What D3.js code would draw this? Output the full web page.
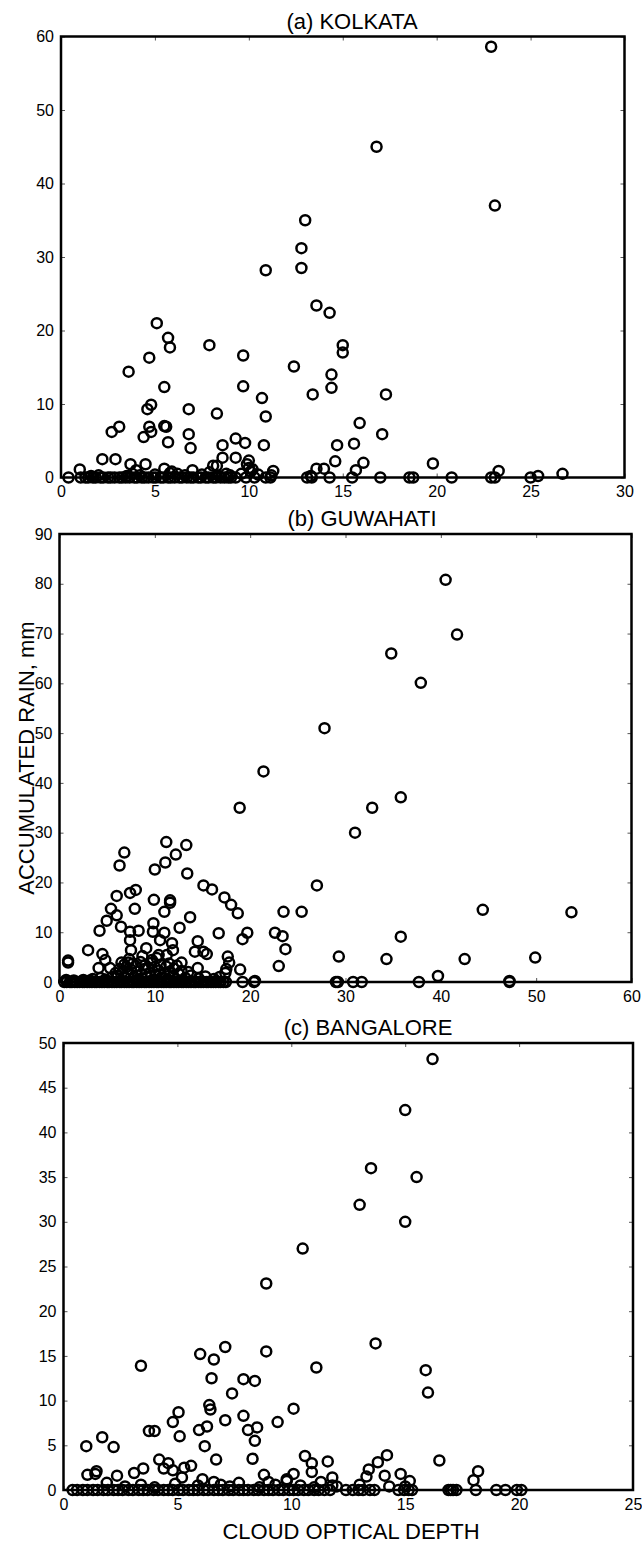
<!DOCTYPE html>
<html>
<head>
<meta charset="utf-8">
<script src="https://cdn.jsdelivr.net/npm/d3@7"></script>
<style>
  body { margin: 0; background: #fff; }
  text { font-family: "Liberation Sans", Arial, Helvetica, sans-serif; }
</style>
</head>
<body>
<div id="chart"></div>
<script>
var svgWidth = 642;
var svgHeight = 1548;

// ---- data: [cloud optical depth, accumulated rain mm] ----
var kolkataPoints = [
  [22.9,58.6],[16.8,45.0],[23.1,37.0],[13.0,35.0],[12.8,31.2],[12.8,28.5],[10.9,28.2],
  [13.6,23.4],[14.3,22.4],[5.1,21.0],[5.7,19.0],[5.8,17.7],[15.0,18.0],[15.0,17.0],
  [7.9,18.0],[9.7,16.6],[4.7,16.3],[12.4,15.1],[3.6,14.4],[14.4,14.0],[9.7,12.4],
  [5.5,12.3],[14.4,12.2],[17.3,11.3],[13.4,11.3],[10.7,10.8],[4.8,9.9],[4.6,9.3],
  [6.8,9.3],[8.3,8.7],[10.9,8.3],[15.9,7.4],[3.1,6.9],[4.7,6.9],[5.6,6.9],[5.5,7.0],
  [2.7,6.2],[4.8,6.2],[6.8,5.9],[17.1,5.9],[4.4,5.5],[15.6,4.6],[5.7,4.8],[6.9,4.0],
  [9.3,5.3],[9.8,4.7],[10.8,4.4],[8.6,4.4],[14.7,4.4],[8.6,2.7],[9.3,2.7],[2.2,2.5],
  [2.9,2.5],[14.6,2.2],[16.1,2.0],[19.8,1.9],[3.7,1.8],[4.5,1.8],[10.0,2.3],[8.1,1.6],
  [8.3,1.6],[14.0,1.2],[15.7,1.0],[11.3,0.9],[13.6,1.2],[23.3,0.9],[1.0,1.1],[5.5,1.2],
  [10.0,1.3],[10.1,0.8],[7.0,1.0],[26.7,0.5],[25.4,0.2],[13.3,0.2],[11.2,0.3],
  [3.8,0.5],[4.2,0.3],[5.0,0.4],[6.2,0.5],[6.6,0.3],[7.5,0.4],[9.0,0.3],[3.5,0.2],
  [5.8,0.6],[8.8,0.5],[4.0,1.0],[5.9,0.8],[2.0,0.3],[1.6,0.2],[7.9,0.7],[8.4,0.2],
  [9.6,0.5],[10.5,0.4],[9.9,1.8],[10.2,1.1],
  [0.4,0],[1.05,0],[1.3,0],[1.45,0],[1.7,0],[1.85,0],[2.1,0],[2.25,0],[2.5,0],[2.65,0],
  [2.85,0],[3.1,0],[3.25,0],[3.45,0],[3.65,0],[3.9,0],[4.05,0],[4.3,0],[4.45,0],[4.65,0],
  [4.9,0],[5.05,0],[5.3,0],[5.45,0],[5.7,0],[5.85,0],[6.05,0],[6.3,0],[6.45,0],[6.7,0],
  [6.9,0],[7.05,0],[7.3,0],[7.45,0],[7.7,0],[7.85,0],[8.1,0],[8.25,0],[8.5,0],[8.7,0],
  [8.9,0],[9.05,0],[9.3,0],[9.85,0],[10.3,0],[10.9,0],[11.15,0],[13.1,0],[13.35,0],
  [14.3,0],[15.5,0],[17.0,0],[18.55,0],[18.75,0],[20.8,0],[22.9,0],[23.1,0],[25.0,0]
];

var guwahatiPoints = [
  [40.5,80.8],[41.7,69.8],[34.8,66.0],[37.9,60.1],[27.8,51.0],[21.4,42.3],[35.8,37.1],
  [18.9,35.0],[32.8,35.0],[31.0,30.0],[11.2,28.1],[13.3,27.5],[6.8,26.0],[12.2,25.6],
  [6.3,23.4],[11.1,24.0],[10.0,22.6],[13.4,21.8],[27.0,19.4],[15.1,19.4],[16.0,18.6],
  [7.4,17.9],[8.0,18.5],[6.0,17.3],[17.3,17.0],[9.9,16.5],[11.6,16.4],[11.6,15.9],
  [18.0,15.5],[5.4,14.7],[7.9,14.7],[11.0,14.1],[23.5,14.1],[25.4,14.1],[44.4,14.5],
  [53.7,14.0],[18.7,13.8],[13.7,13.0],[6.0,13.4],[4.95,12.3],[9.85,11.8],[6.45,11.1],
  [12.6,10.9],[4.2,10.3],[7.4,10.1],[8.3,10.3],[9.8,10.1],[11.0,9.9],[16.7,9.8],
  [19.7,9.9],[22.6,9.9],[35.8,9.1],[23.4,9.2],[19.2,8.6],[7.4,8.4],[10.55,8.4],
  [14.5,8.2],[11.8,7.8],[9.1,6.8],[23.7,6.6],[3.0,6.4],[7.5,6.4],[11.9,6.4],[14.2,6.1],
  [15.1,6.1],[4.5,5.6],[15.45,5.6],[11.25,5.4],[10.4,5.4],[17.65,5.1],[29.3,5.1],
  [49.9,4.9],[34.3,4.6],[42.5,4.6],[4.8,4.4],[9.7,4.4],[0.9,3.9],[0.9,4.3],[7.2,3.9],
  [6.5,3.9],[12.8,3.9],[17.8,3.9],[23.0,3.2],[4.1,2.8],[5.3,2.8],[14.5,2.8],[17.5,2.6],
  [18.95,2.5],[39.7,1.2],[47.2,0.2],[20.5,0.2],
  [6.1,1.2],[6.6,2.0],[6.9,0.8],[7.2,1.6],[7.5,2.5],[7.8,1.0],[8.1,2.1],[8.3,0.6],
  [8.6,1.5],[8.9,2.6],[9.2,1.0],[9.5,1.9],[9.8,0.5],[10.1,1.4],[10.4,2.3],[10.7,0.9],
  [11.0,1.7],[11.3,0.6],[11.6,2.1],[11.9,1.2],[12.2,0.5],[12.5,1.6],[7.0,3.0],[8.0,3.2],
  [9.0,3.4],[10.0,3.0],[11.2,3.1],[5.5,0.9],[4.8,0.5],[3.5,0.6],[2.5,0.4],[13.2,0.8],
  [13.8,1.3],[14.6,0.7],[15.3,1.1],[16.2,0.6],[16.8,1.0],[17.4,1.8],
  [6.3,2.6],[6.8,3.5],[7.7,3.7],[8.5,4.0],[9.3,2.9],[9.6,3.8],[10.6,3.4],[11.5,3.7],
  [12.0,2.7],[12.3,3.3],[7.3,4.6],[8.7,5.2],[10.2,4.8],[5.9,1.8],[12.8,2.2],[13.5,2.0],
  [0.7,0.4],[1.5,0.3],[3.2,0.3],[4.3,0.8],
  [0.5,0],[0.75,0],[1.1,0],[1.3,0],[1.6,0],[1.85,0],[2.1,0],[2.4,0],[2.6,0],[2.9,0],
  [3.15,0],[3.4,0],[3.7,0],[3.9,0],[4.2,0],[4.45,0],[4.7,0],[5.0,0],[5.2,0],[5.5,0],
  [5.75,0],[6.0,0],[6.3,0],[6.5,0],[6.8,0],[7.05,0],[7.3,0],[7.6,0],[7.8,0],[8.1,0],
  [8.35,0],[8.6,0],[8.9,0],[9.1,0],[9.4,0],[9.65,0],[9.9,0],[10.2,0],[10.4,0],[10.7,0],
  [10.95,0],[11.2,0],[11.5,0],[11.7,0],[12.0,0],[12.25,0],[12.5,0],[12.8,0],[13.0,0],
  [13.3,0],[13.55,0],[13.8,0],[14.1,0],[14.3,0],[14.6,0],[14.85,0],[15.1,0],[15.4,0],
  [15.6,0],[15.9,0],[16.15,0],[16.4,0],[16.7,0],[16.9,0],[17.2,0],[17.45,0],[19.2,0],
  [20.4,0],[29.0,0],[29.2,0],[30.8,0],[31.7,0],[37.7,0],[47.2,0]
];

var bangalorePoints = [
  [16.2,48.2],[15.0,42.5],[13.5,36.0],[15.5,35.0],[15.0,30.0],[13.0,31.9],[10.5,27.0],
  [8.9,23.1],[13.7,16.4],[7.1,16.0],[6.0,15.2],[8.9,15.5],[15.9,13.4],[11.1,13.7],
  [6.6,14.6],[3.4,13.9],[6.5,12.5],[7.9,12.4],[8.4,12.2],[7.4,10.8],[16.0,10.9],
  [6.4,9.5],[6.45,9.0],[10.1,9.1],[5.05,8.7],[7.9,8.3],[7.1,7.8],[4.8,7.6],[9.4,7.6],
  [6.3,7.1],[8.5,7.0],[5.95,6.7],[8.1,6.7],[3.75,6.6],[4.0,6.6],[5.1,6.0],[1.7,5.9],
  [8.4,5.5],[1.0,4.9],[2.2,4.8],[6.2,4.9],[14.2,3.9],[10.6,3.8],[6.7,3.4],[8.3,3.5],
  [4.2,3.4],[16.5,3.3],[11.6,3.2],[13.8,3.1],[10.9,3.0],[4.6,3.0],[5.6,2.7],[5.3,2.5],
  [3.5,2.4],[4.4,2.4],[13.4,2.3],[4.8,2.2],[18.2,2.1],[1.45,2.1],[10.9,2.0],[3.1,1.9],
  [1.05,1.7],[8.8,1.7],[14.8,1.8],[10.1,1.8],[2.35,1.6],[14.1,1.6],[13.3,1.5],[1.4,1.8],
  [11.8,1.4],[5.2,1.4],[6.1,1.2],[9.8,1.2],[18.0,1.1],[15.2,1.0],[9.8,1.0],[11.3,0.9],
  [1.9,0.8],
  [2.7,0.4],[3.4,0.6],[4.0,0.3],[4.9,0.7],[5.9,0.5],[6.6,0.9],[7.3,0.4],[7.7,0.8],
  [8.6,0.3],[9.3,0.6],[10.4,0.5],[11.0,0.3],[12.0,0.4],[13.0,0.6],[14.3,0.4],[15.0,0.4],
  [11.8,0.5],[6.9,0.6],[9.0,0.9],
  [0.4,0],[0.6,0],[0.85,0],[1.05,0],[1.3,0],[1.5,0],[1.75,0],[1.95,0],[2.2,0],[2.4,0],
  [2.6,0],[2.85,0],[3.05,0],[3.3,0],[3.5,0],[3.7,0],[3.95,0],[4.15,0],[4.4,0],[4.6,0],
  [4.8,0],[5.05,0],[5.25,0],[5.5,0],[5.7,0],[5.9,0],[6.15,0],[6.35,0],[6.6,0],[6.8,0],
  [7.0,0],[7.25,0],[7.45,0],[7.7,0],[7.9,0],[8.1,0],[8.35,0],[8.55,0],[8.8,0],[9.0,0],
  [9.2,0],[9.45,0],[9.65,0],[9.9,0],[10.1,0],[10.3,0],[10.55,0],[10.75,0],[11.0,0],
  [11.2,0],[11.45,0],[11.7,0],[12.4,0],[12.7,0],[12.95,0],[13.15,0],[13.45,0],[13.65,0],
  [14.7,0],[14.95,0],[15.15,0],[15.3,0],[16.9,0],[17.0,0],[17.1,0],[17.25,0],[18.1,0],
  [19.0,0],[19.4,0],[19.9,0],[20.1,0]
];

// tick values
var kolkataXTicks = [0, 5, 10, 15, 20, 25, 30];
var kolkataYTicks = [0, 10, 20, 30, 40, 50, 60];
var guwahatiXTicks = [0, 10, 20, 30, 40, 50, 60];
var guwahatiYTicks = [0, 10, 20, 30, 40, 50, 60, 70, 80, 90];
var bangaloreXTicks = [0, 5, 10, 15, 20, 25];
var bangaloreYTicks = [0, 5, 10, 15, 20, 25, 30, 35, 40, 45, 50];

var panelTitles = ["(a) KOLKATA", "(b) GUWAHATI", "(c) BANGALORE"];
var xLabel = "CLOUD OPTICAL DEPTH";
var yLabel = "ACCUMULATED RAIN, mm";

// ---- layout ----
var panels = [
  { title: panelTitles[0], points: kolkataPoints, xTicks: kolkataXTicks, yTicks: kolkataYTicks,
    left: 61, right: 624.5, top: 36.5, bottom: 477.5, titleX: 352 },
  { title: panelTitles[1], points: guwahatiPoints, xTicks: guwahatiXTicks, yTicks: guwahatiYTicks,
    left: 59.5, right: 631.5, top: 534, bottom: 982, titleX: 362 },
  { title: panelTitles[2], points: bangalorePoints, xTicks: bangaloreXTicks, yTicks: bangaloreYTicks,
    left: 63.5, right: 633, top: 1043, bottom: 1490, titleX: 368 }
];

var svg = d3.select("#chart")
  .append("svg")
  .attr("width", svgWidth)
  .attr("height", svgHeight)
  .style("background", "#fff");

function styleAxis(axisG) {
  axisG.select(".domain").remove();
  axisG.selectAll(".tick line").attr("stroke", "#555").attr("stroke-width", 1);
  axisG.selectAll(".tick text").attr("fill", "#000").style("font-size", "16px");
}

function drawPanel(p) {
  var xScale = d3.scaleLinear()
    .domain([p.xTicks[0], p.xTicks[p.xTicks.length - 1]])
    .range([p.left, p.right]);
  var yScale = d3.scaleLinear()
    .domain([p.yTicks[0], p.yTicks[p.yTicks.length - 1]])
    .range([p.bottom, p.top]);

  var g = svg.append("g");

  // inward ticks on all four sides
  g.append("g")
    .attr("transform", `translate(0, ${p.bottom})`)
    .call(d3.axisBottom(xScale).tickValues(p.xTicks).tickSize(-4).tickPadding(8.5).tickFormat(d3.format("d")))
    .call(styleAxis);
  g.append("g")
    .attr("transform", `translate(0, ${p.top})`)
    .call(d3.axisTop(xScale).tickValues(p.xTicks).tickSize(-4).tickFormat(""))
    .call(styleAxis);
  g.append("g")
    .attr("transform", `translate(${p.left}, 0)`)
    .call(d3.axisLeft(yScale).tickValues(p.yTicks).tickSize(-4).tickPadding(7).tickFormat(d3.format("d")))
    .call(styleAxis);
  g.append("g")
    .attr("transform", `translate(${p.right}, 0)`)
    .call(d3.axisRight(yScale).tickValues(p.yTicks).tickSize(-4).tickFormat(""))
    .call(styleAxis);

  // frame
  g.append("rect")
    .attr("x", p.left)
    .attr("y", p.top)
    .attr("width", p.right - p.left)
    .attr("height", p.bottom - p.top)
    .attr("fill", "none")
    .attr("stroke", "#000")
    .attr("stroke-width", 2.5);

  // open circles
  g.selectAll("circle")
    .data(p.points)
    .enter()
    .append("circle")
    .attr("cx", d => xScale(d[0]))
    .attr("cy", d => yScale(d[1]))
    .attr("r", 5)
    .attr("fill", "none")
    .attr("stroke", "#000")
    .attr("stroke-width", 2.5);

  // panel title
  g.append("text")
    .attr("x", p.titleX)
    .attr("y", p.top - 8)
    .attr("text-anchor", "middle")
    .style("font-size", "22px")
    .text(p.title);
}

panels.forEach(drawPanel);

// x axis label under the last panel
svg.append("text")
  .attr("x", 351)
  .attr("y", 1539)
  .attr("text-anchor", "middle")
  .style("font-size", "22px")
  .text(xLabel);

// y axis label beside the middle panel
svg.append("text")
  .attr("transform", "translate(34, 758) rotate(-90)")
  .attr("text-anchor", "middle")
  .style("font-size", "22px")
  .text(yLabel);
</script>
</body>
</html>
